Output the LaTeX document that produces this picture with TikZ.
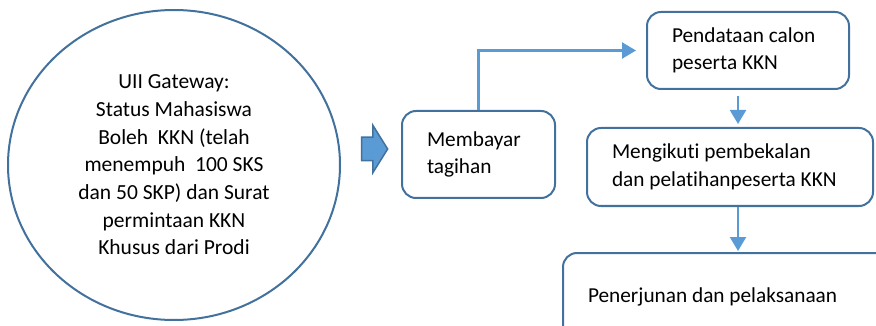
\documentclass[tikz,border=0pt]{standalone}
\usepackage{fontspec}
\setmainfont{Carlito}[Ligatures=CommonOff]
\usetikzlibrary{shapes.geometric,shapes.arrows,arrows.meta}
\definecolor{garis}{HTML}{41719C}
\definecolor{biru}{HTML}{5B9BD5}

\begin{document}
\begin{tikzpicture}[x=1pt,y=-1pt,font=\fontsize{21.3}{27.5}\selectfont,
  kotak/.style={draw=garis,line width=2pt,rounded corners=14pt,align=flush left,
    inner xsep=25pt,inner ysep=0pt},
  alur/.style={draw=biru,line width=2.2pt,-{Triangle[length=14pt,width=16pt]}}]
  \useasboundingbox (0,0) rectangle (876,326);
  \clip (0,0) rectangle (876,326);
  \node[ellipse,draw=garis,line width=2pt,minimum width=332pt,minimum height=310pt,
    align=flush center,inner sep=0pt,font=\fontsize{21.5}{27.7}\selectfont] (gateway) at (174,165)
    {UII Gateway:\\ Status Mahasiswa\\ Boleh\ \ KKN (telah\\ menempuh\ \ 100 SKS\\
     dan 50 SKP) dan Surat\\ permintaan KKN\\ Khusus dari Prodi};
  \node[single arrow,draw=garis,fill=biru,line width=1.5pt,minimum height=26pt,
    single arrow head extend=12pt,single arrow tip angle=116,
    inner xsep=0pt,inner ysep=11pt] (panah) at (371,149) {};
  \node[kotak,text width=103pt,minimum height=87pt] (bayar) at (478.5,154.5)
    {Membayar\\ tagihan};
  \node[kotak,text width=152pt,minimum height=77pt] (data) at (748,50.5)
    {Pendataan calon\\ peserta KKN};
  \node[kotak,text width=236pt,minimum height=78pt] (ikut) at (730,167)
    {Mengikuti pembekalan\\ dan pelatihanpeserta KKN};
  \node[kotak,text width=290pt,minimum height=87pt] (turun) at (733,296.5)
    {Penerjunan dan pelaksanaan};
  \coordinate (jalur) at (738,0);
  \draw[alur,shorten >=10pt] (bayar.north) |- (data.west);
  \draw[alur,shorten <=6pt,shorten >=3pt] (jalur |- data.south) -- (jalur |- ikut.north);
  \draw[alur,shorten >=1pt] (jalur |- ikut.south) -- (jalur |- turun.north);
\end{tikzpicture}
\end{document}
